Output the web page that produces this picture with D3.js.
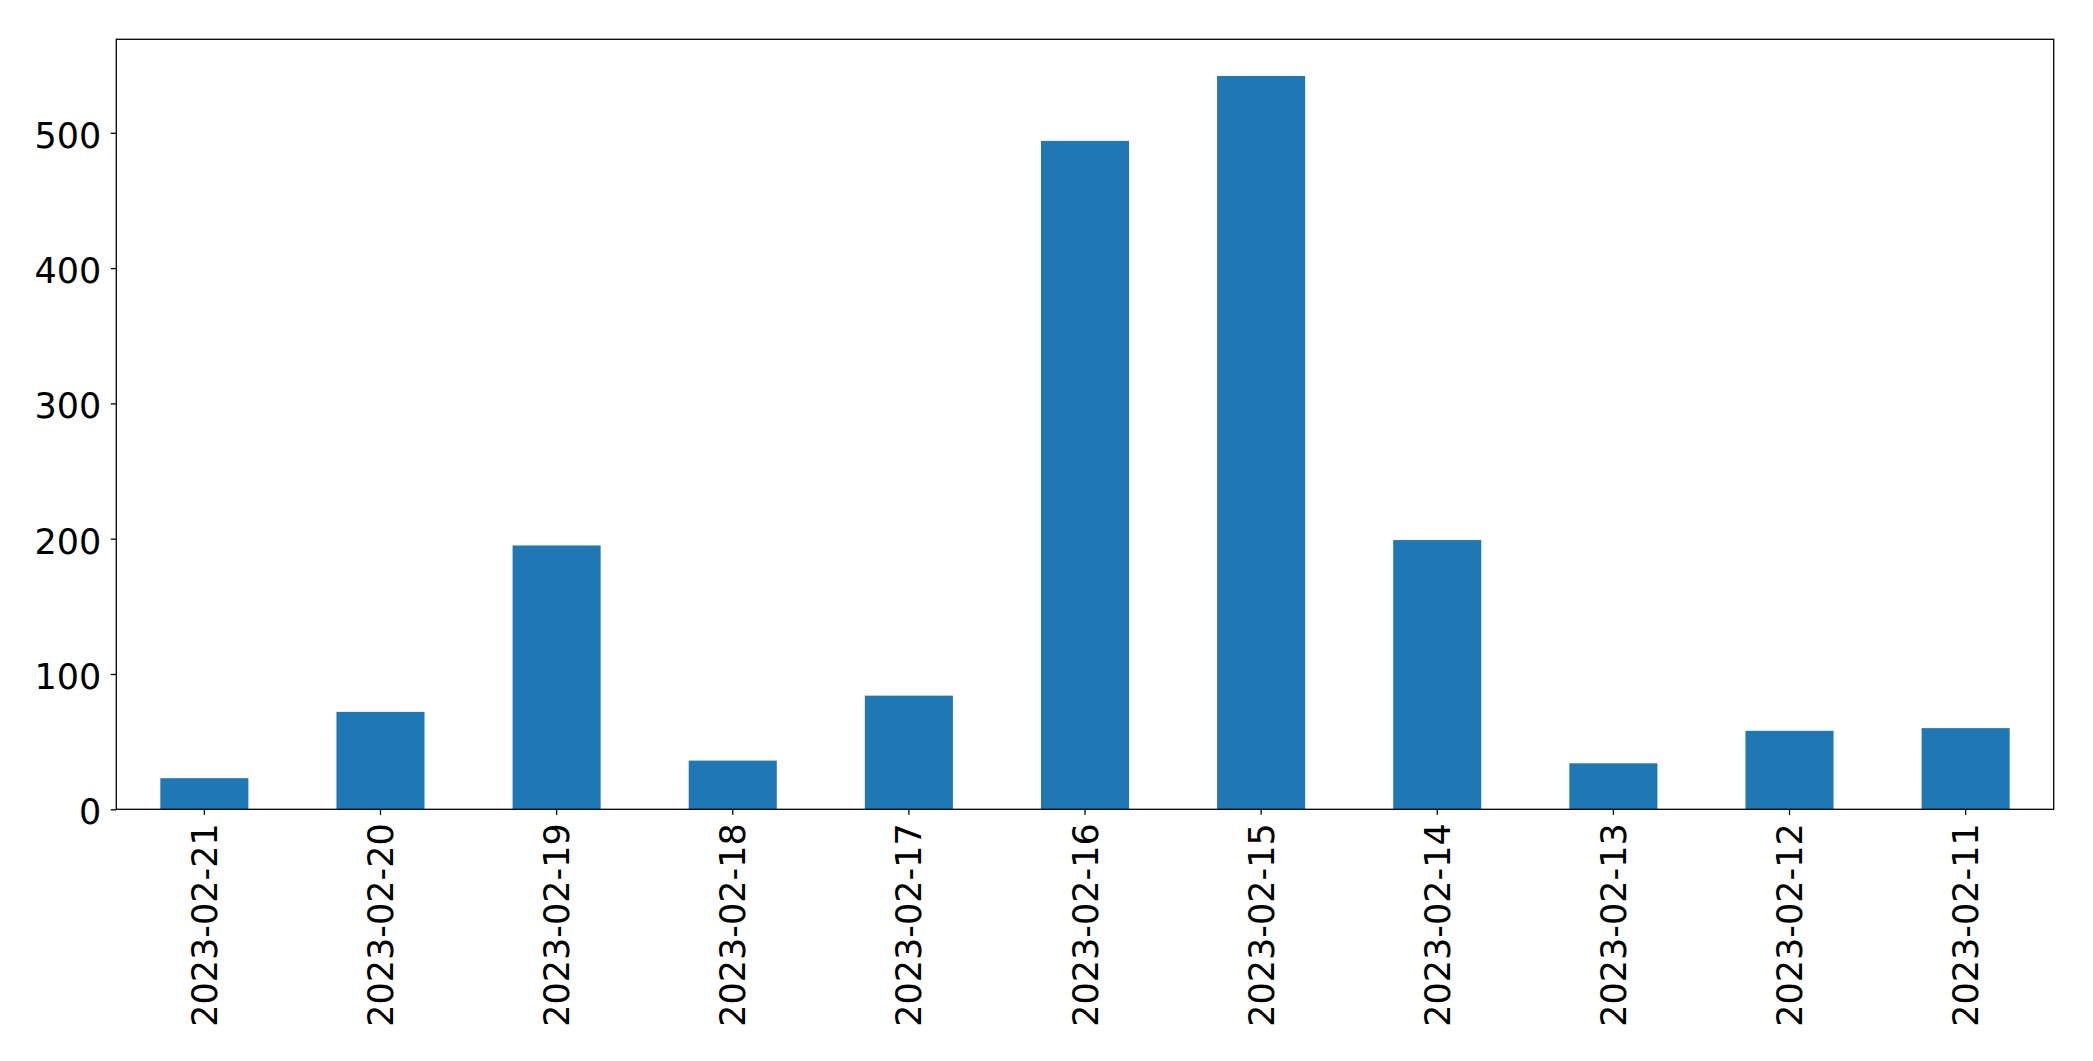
<!DOCTYPE html>
<html>
<head>
<meta charset="utf-8">
<script src="https://cdn.jsdelivr.net/npm/d3@7/dist/d3.min.js"></script>
<style>
  html, body { margin: 0; padding: 0; background: #fff; }
  svg { display: block; }
  text { font-family: "DejaVu Sans", sans-serif; fill: #000; }
</style>
</head>
<body>
<svg id="chart" width="2093" height="1061"></svg>
<script>
const categories = ["2023-02-21", "2023-02-20", "2023-02-19", "2023-02-18", "2023-02-17", "2023-02-16", "2023-02-15", "2023-02-14", "2023-02-13", "2023-02-12", "2023-02-11"];
const values = [23, 72, 195, 36, 84, 494, 542, 199, 34, 58, 60];
const yTicks = [0, 100, 200, 300, 400, 500];

const W = 2093, H = 1061;
const margin = { left: 116.3, right: W - 2053.7, top: 39.3, bottom: H - 809.3 };
const iw = W - margin.left - margin.right;
const ih = H - margin.top - margin.bottom;

const svg = d3.select("#chart");
const g = svg.append("g").attr("transform", `translate(${margin.left},${margin.top})`);

const x = d3.scaleBand().domain(categories).range([0, iw]).paddingInner(0.5).paddingOuter(0.25);
const y = d3.scaleLinear().domain([0, d3.max(values) * 1.05]).range([ih, 0]);

g.selectAll("rect.bar")
  .data(categories.map((c, i) => ({ c, v: values[i] })))
  .join("rect")
  .attr("class", "bar")
  .attr("x", d => x(d.c))
  .attr("width", x.bandwidth())
  .attr("y", d => y(d.v))
  .attr("height", d => y(0) - y(d.v))
  .attr("fill", "#1f77b4");

// Y axis
const yAxis = g.append("g").call(d3.axisLeft(y).tickValues(yTicks).tickSize(5.5).tickPadding(9.5).tickFormat(d3.format("d")));
yAxis.select(".domain").remove();
yAxis.selectAll(".tick line").attr("stroke", "#000").attr("stroke-width", 1.3);
yAxis.selectAll(".tick text").attr("font-size", "35px").attr("dy", "0.415em").style("font-family", '"DejaVu Sans", sans-serif');

// X axis
const xAxis = g.append("g").attr("transform", `translate(0,${ih})`).call(d3.axisBottom(x).tickSize(5.5).tickPadding(0));
xAxis.select(".domain").remove();
xAxis.selectAll(".tick line").attr("stroke", "#000").attr("stroke-width", 1.3);
xAxis.selectAll(".tick text")
  .attr("font-size", "35px")
  .style("font-family", '"DejaVu Sans", sans-serif')
  .attr("text-anchor", "end")
  .attr("transform", "rotate(-90)")
  .attr("x", -14)
  .attr("y", 0)
  .attr("dy", "0.36em");

// Frame
g.append("rect")
  .attr("x", 0).attr("y", 0).attr("width", iw).attr("height", ih)
  .attr("fill", "none").attr("stroke", "#000").attr("stroke-width", 1.3);
</script>
</body>
</html>
